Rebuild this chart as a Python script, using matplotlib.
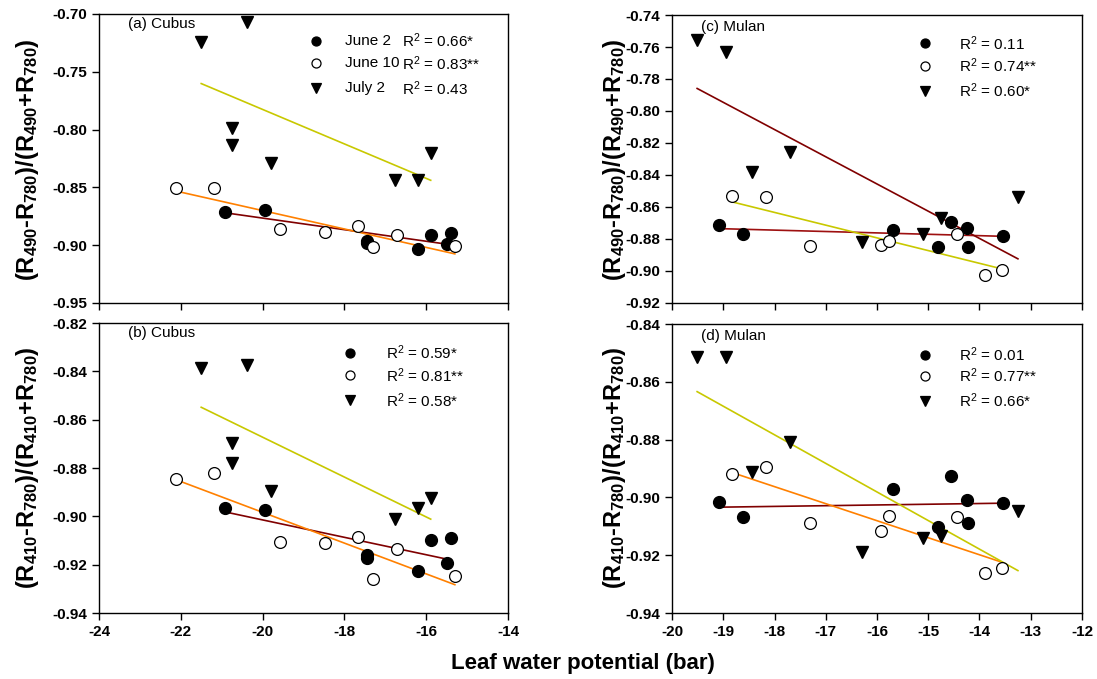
import numpy as np
import matplotlib
matplotlib.use("Agg")
import matplotlib.pyplot as plt

plt.rcParams['font.family'] = ['Liberation Sans', 'DejaVu Sans']
plt.rcParams['mathtext.default'] = 'regular'

# ---- data (leaf water potential, bar / index value) ----
# Cubus, June 2
cub_j2_x = [-20.91, -19.95, -17.45, -17.45, -16.20, -15.89, -15.50, -15.40]
cub_j2_y490 = [-0.871, -0.870, -0.8965, -0.8985, -0.9033, -0.891, -0.899, -0.8897]
cub_j2_y410 = [-0.8966, -0.8975, -0.9160, -0.9174, -0.9227, -0.9097, -0.9194, -0.9091]
# Cubus, June 10
cub_j10_x = [-22.12, -21.19, -19.57, -18.47, -17.67, -17.29, -16.71, -15.30]
cub_j10_y490 = [-0.8508, -0.8508, -0.8857, -0.8888, -0.8834, -0.9018, -0.8914, -0.9009]
cub_j10_y410 = [-0.8847, -0.8821, -0.9105, -0.9112, -0.9087, -0.9259, -0.9135, -0.9245]
# Cubus, July 2
cub_jl2_x = [-21.50, -20.39, -20.74, -20.74, -19.80, -16.76, -16.19, -15.89]
cub_jl2_y490 = [-0.724, -0.7072, -0.7989, -0.8133, -0.8286, -0.8436, -0.8436, -0.8205]
cub_jl2_y410 = [-0.8388, -0.8374, -0.8696, -0.8781, -0.8896, -0.9013, -0.8965, -0.8926]

# Mulan, June 2
mul_j2_x = [-19.08, -18.62, -15.69, -14.80, -14.55, -14.24, -14.22, -13.55]
mul_j2_y490 = [-0.8713, -0.8767, -0.8742, -0.8848, -0.8694, -0.8729, -0.8852, -0.8779]
mul_j2_y410 = [-0.9015, -0.9069, -0.8970, -0.9101, -0.8926, -0.9010, -0.9090, -0.9020]
# Mulan, June 10
mul_j10_x = [-18.82, -18.16, -17.30, -15.92, -15.77, -14.44, -13.90, -13.57]
mul_j10_y490 = [-0.8533, -0.8539, -0.8846, -0.8838, -0.8810, -0.8771, -0.9025, -0.8992]
mul_j10_y410 = [-0.8918, -0.8895, -0.9090, -0.9115, -0.9063, -0.9067, -0.9261, -0.9243]
# Mulan, July 2
mul_jl2_x = [-19.51, -18.95, -18.44, -17.70, -16.29, -15.10, -14.75, -13.25]
mul_jl2_y490 = [-0.7556, -0.7633, -0.8381, -0.8258, -0.8821, -0.8771, -0.8671, -0.8540]
mul_jl2_y410 = [-0.8513, -0.8513, -0.8911, -0.8809, -0.9188, -0.9141, -0.9135, -0.9047]

dates = ['June 2', 'June 10', 'July 2']
r2_a = ['0.66*', '0.83**', '0.43']
r2_b = ['0.59*', '0.81**', '0.58*']
r2_c = ['0.11', '0.74**', '0.60*']
r2_d = ['0.01', '0.77**', '0.66*']

MAROON = '#800000'
DARKRED = '#9E1010'
ORANGE = '#FF8000'
OLIVE = '#C8C800'


def draw_series(ax, x, y, kind, line_color):
    x = np.asarray(x)
    y = np.asarray(y)
    # regression line over the data range
    k, b = np.polyfit(x, y, 1)
    xs = np.array([x.min(), x.max()])
    ax.plot(xs, k * xs + b, color=line_color, lw=1.2, zorder=2)
    if kind == 'filled':
        ax.plot(x, y, 'o', ms=8.5, mfc='black', mec='black', ls='none', zorder=3)
    elif kind == 'open':
        ax.plot(x, y, 'o', ms=8.5, mfc='white', mec='black', mew=0.9, ls='none', zorder=3)
    else:
        ax.plot(x, y, 'v', ms=9, mfc='black', mec='black', ls='none', zorder=3)


def draw_legend(ax, mx, tx, rows, texts, names=None, rx=None):
    kinds = [('o', 'black'), ('o', 'white'), ('v', 'black')]
    for (m, fc), yy, t, i in zip(kinds, rows, texts, range(3)):
        ax.plot([mx], [yy], m, ms=6.5 if m == 'o' else 7.5, mfc=fc, mec='black',
                mew=0.9, transform=ax.transAxes, clip_on=False)
        if names is not None:
            ax.text(tx, yy, names[i], transform=ax.transAxes, va='center', fontsize=11)
            ax.text(rx, yy, 'R$^2$ = ' + t, transform=ax.transAxes, va='center', fontsize=11)
        else:
            ax.text(tx, yy, 'R$^2$ = ' + t, transform=ax.transAxes, va='center', fontsize=11)


def style_axis(ax, xlim, xticks, ylim, yticks, fmt):
    ax.set_xlim(*xlim)
    ax.set_ylim(*ylim)
    ax.set_xticks(xticks)
    ax.set_yticks(yticks)
    ax.set_yticklabels([fmt % v for v in yticks])
    ax.set_xticklabels(['%d' % v for v in xticks])
    ax.tick_params(direction='out', length=5, width=1, labelsize=11)
    for lab in ax.get_xticklabels() + ax.get_yticklabels():
        lab.set_fontweight('bold')
    for s in ax.spines.values():
        s.set_linewidth(1.0)


fig = plt.figure(figsize=(10.97, 6.79), dpi=100)
ax_a = fig.add_axes([0.0902, 0.5538, 0.3729, 0.4256])
ax_b = fig.add_axes([0.0902, 0.0972, 0.3729, 0.4271])
ax_c = fig.add_axes([0.6126, 0.5538, 0.3737, 0.4241])
ax_d = fig.add_axes([0.6126, 0.0972, 0.3737, 0.4256])

# (a) Cubus, R490
draw_series(ax_a, cub_j2_x, cub_j2_y490, 'filled', MAROON)
draw_series(ax_a, cub_j10_x, cub_j10_y490, 'open', ORANGE)
draw_series(ax_a, cub_jl2_x, cub_jl2_y490, 'tri', OLIVE)
style_axis(ax_a, (-24, -14), [], (-0.95, -0.70),
           [-0.95, -0.90, -0.85, -0.80, -0.75, -0.70], '%.2f')
ax_a.set_xticks([-24, -22, -20, -18, -16, -14])
ax_a.tick_params(axis='x', labelbottom=False)
ax_a.text(0.071, 0.965, '(a) Cubus', transform=ax_a.transAxes, va='center', fontsize=11)
draw_legend(ax_a, 0.530, 0.601, [0.908, 0.829, 0.743], r2_a, names=dates, rx=0.742)

# (b) Cubus, R410
draw_series(ax_b, cub_j2_x, cub_j2_y410, 'filled', MAROON)
draw_series(ax_b, cub_j10_x, cub_j10_y410, 'open', ORANGE)
draw_series(ax_b, cub_jl2_x, cub_jl2_y410, 'tri', OLIVE)
style_axis(ax_b, (-24, -14), [-24, -22, -20, -18, -16, -14], (-0.94, -0.82),
           [-0.94, -0.92, -0.90, -0.88, -0.86, -0.84, -0.82], '%.2f')
ax_b.text(0.071, 0.965, '(b) Cubus', transform=ax_b.transAxes, va='center', fontsize=11)
draw_legend(ax_b, 0.614, 0.702, [0.898, 0.819, 0.733], r2_b)

# (c) Mulan, R490
draw_series(ax_c, mul_j2_x, mul_j2_y490, 'filled', DARKRED)
draw_series(ax_c, mul_j10_x, mul_j10_y490, 'open', OLIVE)
draw_series(ax_c, mul_jl2_x, mul_jl2_y490, 'tri', MAROON)
style_axis(ax_c, (-20, -12), [], (-0.92, -0.74),
           [-0.92, -0.90, -0.88, -0.86, -0.84, -0.82, -0.80, -0.78, -0.76, -0.74], '%.2f')
ax_c.set_xticks(list(range(-20, -11)))
ax_c.tick_params(axis='x', labelbottom=False)
ax_c.text(0.07, 0.958, '(c) Mulan', transform=ax_c.transAxes, va='center', fontsize=11)
draw_legend(ax_c, 0.617, 0.700, [0.902, 0.824, 0.736], r2_c)

# (d) Mulan, R410
draw_series(ax_d, mul_j2_x, mul_j2_y410, 'filled', MAROON)
draw_series(ax_d, mul_j10_x, mul_j10_y410, 'open', ORANGE)
draw_series(ax_d, mul_jl2_x, mul_jl2_y410, 'tri', OLIVE)
style_axis(ax_d, (-20, -12), list(range(-20, -11)), (-0.94, -0.84),
           [-0.94, -0.92, -0.90, -0.88, -0.86, -0.84], '%.2f')
ax_d.text(0.07, 0.958, '(d) Mulan', transform=ax_d.transAxes, va='center', fontsize=11)
draw_legend(ax_d, 0.617, 0.700, [0.893, 0.821, 0.734], r2_d)

# axis titles
lab490 = '(R$_{490}$-R$_{780}$)/(R$_{490}$+R$_{780}$)'
lab410 = '(R$_{410}$-R$_{780}$)/(R$_{410}$+R$_{780}$)'
for xp, yp, lab in [(28, 160, lab490), (28, 468, lab410),
                    (615, 160, lab490), (615, 468, lab410)]:
    fig.text(xp / 1097, 1 - yp / 679, lab, rotation=90, ha='center', va='center',
             fontsize=17, fontweight='bold')
fig.text(583 / 1097, 1 - 664 / 679, 'Leaf water potential (bar)', ha='center', va='center',
         fontsize=16, fontweight='bold')

fig.savefig('out.png', dpi=100)
